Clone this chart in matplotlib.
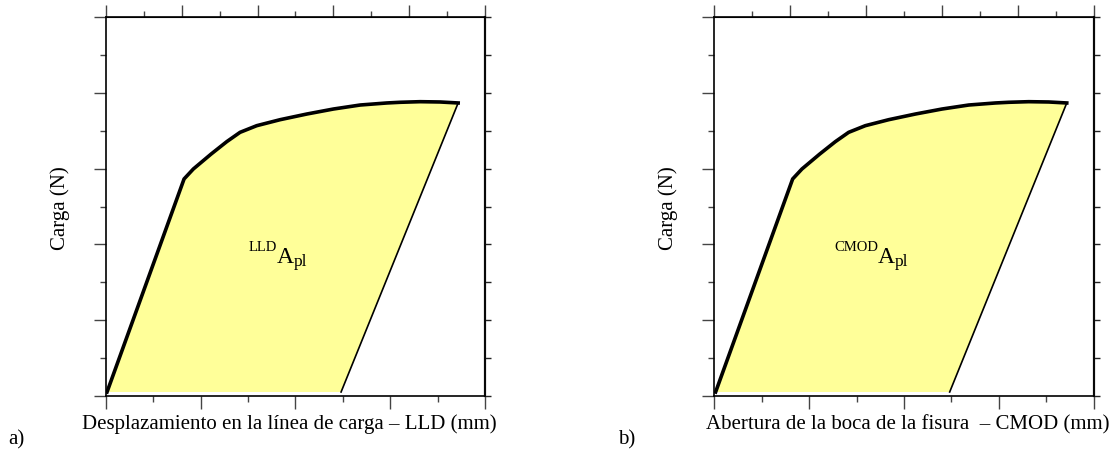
import numpy as np
import matplotlib
matplotlib.use('Agg')
import matplotlib.pyplot as plt
from matplotlib.ticker import MultipleLocator, NullFormatter

plt.rcParams['font.family'] = 'Liberation Serif'

# load-displacement record (arbitrary units, loading branch then elastic unloading)
load_x = [0.014, 0.826, 0.924, 1.112, 1.276, 1.416, 1.592, 1.838, 2.120,
          2.400, 2.682, 2.963, 3.103, 3.314, 3.525, 3.715]
load_y = [0.049, 2.864, 2.996, 3.194, 3.357, 3.480, 3.568, 3.647, 3.722,
          3.788, 3.841, 3.868, 3.877, 3.885, 3.881, 3.868]
unload_x = [3.715, 2.481]
unload_y = [3.868, 0.049]

panels = ['a)', 'b)']
xlabels = ['Desplazamiento en la línea de carga – LLD (mm)',
           'Abertura de la boca de la fisura  – CMOD (mm)']
area_tags = ['LLD', 'CMOD']
ylabel = 'Carga (N)'

fig = plt.figure(figsize=(11.16, 4.52), dpi=100)

ax_left = [105.7, 714.3]      # axes left edge (px)
tag_pos = [(1.806, 1.767), (1.725, 1.767)]
W, H = 1116.0, 452.0

for i in range(2):
    x0 = ax_left[i]
    ax = fig.add_axes([x0 / W, 55.3 / H, 379.5 / W, 378.4 / H])

    fx = load_x + unload_x[1:] + [load_x[0]]
    fy = load_y + unload_y[1:] + [load_y[0]]
    ax.fill(fx, fy, color='#ffff99', lw=0, zorder=1)
    ax.plot(load_x, load_y, color='black', lw=2.6, solid_joinstyle='round', zorder=3)
    ax.plot(unload_x, unload_y, color='black', lw=1.2, zorder=3)

    ax.set_xlim(0, 4)
    ax.set_ylim(0, 5)
    ax.xaxis.set_major_locator(MultipleLocator(1))
    ax.xaxis.set_minor_locator(MultipleLocator(0.5))
    ax.yaxis.set_major_locator(MultipleLocator(1))
    ax.yaxis.set_minor_locator(MultipleLocator(0.5))
    ax.xaxis.set_major_formatter(NullFormatter())
    ax.yaxis.set_major_formatter(NullFormatter())
    ax.tick_params(which='major', direction='out', length=9, width=1, color='#444')
    ax.tick_params(which='minor', direction='out', length=4.5, width=1, color='#444')
    for s in ax.spines.values():
        s.set_linewidth(1.2)

    top = ax.secondary_xaxis('top', functions=(lambda x: x * 1.25, lambda x: x / 1.25))
    top.xaxis.set_major_locator(MultipleLocator(1))
    top.xaxis.set_minor_locator(MultipleLocator(0.5))
    top.xaxis.set_major_formatter(NullFormatter())
    top.tick_params(which='major', direction='out', length=9, width=1, color='#444')
    top.tick_params(which='minor', direction='out', length=4.5, width=1, color='#444')

    right = ax.secondary_yaxis('right', functions=(lambda y: y * 2, lambda y: y / 2))
    right.yaxis.set_major_locator(MultipleLocator(1))
    right.yaxis.set_major_formatter(NullFormatter())
    right.tick_params(which='major', direction='out', length=4.3, width=1, color='#222')
    right.spines['right'].set_linewidth(1.6)
    right.spines['right'].set_color('#333')

    # plastic area label: tag^A_pl
    xa, ya = tag_pos[i]
    tA = ax.text(xa, ya, 'A', fontsize=17, ha='left', va='baseline', zorder=4)
    ax.annotate(area_tags[i], xy=(0, ya), xycoords=(tA, 'data'), xytext=(0, 11.5),
                textcoords='offset pixels', ha='right', va='baseline', fontsize=10.5)
    ax.annotate('pl', xy=(1, ya), xycoords=(tA, 'data'), xytext=(0, -3),
                textcoords='offset pixels', ha='left', va='baseline', fontsize=12.5)

    dx = x0 - ax_left[0]
    fig.text((60 + dx) / W, (H - 208) / H, ylabel, rotation=90, fontsize=15,
             ha='center', va='center')
    fig.text((289 + i * 619) / W, (H - 429) / H, xlabels[i], fontsize=15,
             ha='center', va='baseline')
    fig.text((8 + i * 610) / W, (H - 444) / H, panels[i], fontsize=15,
             ha='left', va='baseline')

fig.savefig('out.png', dpi=100)
